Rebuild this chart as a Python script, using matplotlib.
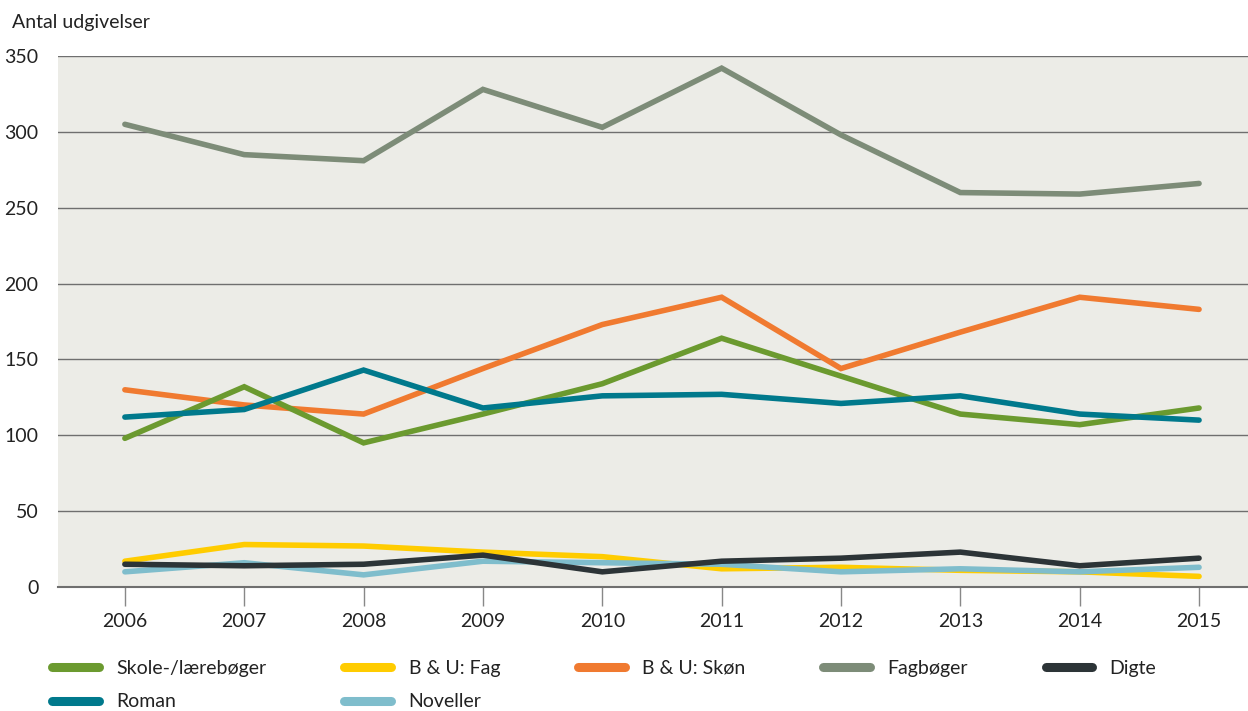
import matplotlib
matplotlib.use("Agg")
import matplotlib.pyplot as plt

plt.rcParams["font.family"] = ["Lato", "DejaVu Sans"]

years = [2006, 2007, 2008, 2009, 2010, 2011, 2012, 2013, 2014, 2015]

skole = [98, 132, 95, 114, 134, 164, 139, 114, 107, 118]
bu_fag = [17, 28, 27, 23, 20, 12, 13, 11, 10, 7]
bu_skon = [130, 120, 114, 144, 173, 191, 144, 168, 191, 183]
fagboger = [305, 285, 281, 328, 303, 342, 298, 260, 259, 266]
digte = [15, 14, 15, 21, 10, 17, 19, 23, 14, 19]
roman = [112, 117, 143, 118, 126, 127, 121, 126, 114, 110]
noveller = [10, 16, 8, 17, 16, 15, 10, 12, 10, 13]

series = [
    ("Skole-/lærebøger", skole, "#6b9a2f"),
    ("B & U: Fag", bu_fag, "#ffcc00"),
    ("B & U: Skøn", bu_skon, "#f07a30"),
    ("Fagbøger", fagboger, "#7d8c78"),
    ("Digte", digte, "#2c3437"),
    ("Roman", roman, "#00798c"),
    ("Noveller", noveller, "#7fbdcc"),
]
# drawing order (back to front)
draw_order = ["Fagbøger", "B & U: Skøn", "Skole-/lærebøger", "Roman", "B & U: Fag", "Noveller", "Digte"]
# legend fills column by column, so this gives the row layout of the original
legend_order = ["Skole-/lærebøger", "Roman", "B & U: Fag", "Noveller", "B & U: Skøn", "Fagbøger", "Digte"]

fig = plt.figure(figsize=(12.48, 7.11), dpi=100)
ax = fig.add_axes([0.0465, 0.1744, 0.9535, 0.7468])
ax.set_facecolor("#ecece7")

lookup = {name: (vals, color) for name, vals, color in series}
lines = {}
for z, name in enumerate(draw_order):
    vals, color = lookup[name]
    (ln,) = ax.plot(years, vals, color=color, linewidth=4.0, solid_capstyle="round",
                    solid_joinstyle="miter", zorder=3 + z, label=name)
    lines[name] = ln

ax.set_xlim(2005.44, 2015.41)
ax.set_ylim(0, 350)
ax.set_yticks(range(0, 351, 50))
ax.set_xticks(years)
ax.grid(axis="y", color="#6f6f6f", linewidth=1.0, zorder=1)
ax.set_axisbelow(True)
for s in ["top", "right", "left"]:
    ax.spines[s].set_visible(False)
ax.spines["bottom"].set_color("#6f6f6f")
ax.spines["bottom"].set_linewidth(1.5)
ax.tick_params(axis="y", length=0, pad=14, labelsize=14, labelcolor="#222222")
ax.tick_params(axis="x", length=14, width=1.0, color="#888888", pad=5,
               labelsize=14, labelcolor="#222222")

fig.text(0.0096, 0.969, "Antal udgivelser", fontsize=14, color="#222222", va="center", ha="left")

handles = [lines[name] for name in legend_order]
leg = fig.legend(handles, legend_order, loc="upper left", bbox_to_anchor=(0.042, 0.072),
                 ncol=5, frameon=False, fontsize=14, handlelength=2.4,
                 handletextpad=0.9, columnspacing=4.0, labelspacing=0.85,
                 borderaxespad=0, borderpad=0)
for h in leg.legend_handles:
    h.set_linewidth(6.5)
    h.set_solid_capstyle("round")
for t in leg.get_texts():
    t.set_color("#222222")

fig.savefig("out.png", dpi=100)
